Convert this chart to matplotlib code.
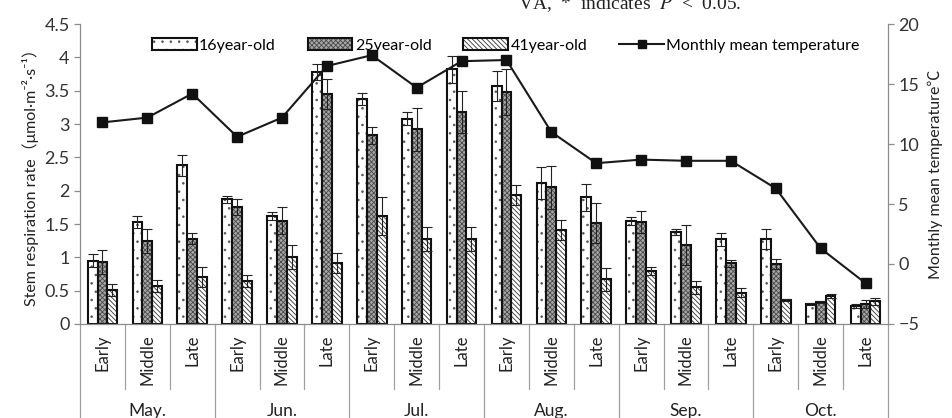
import numpy as np
import matplotlib
matplotlib.use('Agg')
import matplotlib.pyplot as plt
from matplotlib.lines import Line2D
from matplotlib.legend_handler import HandlerTuple

plt.rcParams['font.family'] = ['Lato', 'Noto Sans CJK SC', 'DejaVu Sans']
plt.rcParams['hatch.linewidth'] = 0.6
plt.rcParams['mathtext.fontset'] = 'stix'

months = ['May.', 'Jun.', 'Jul.', 'Aug.', 'Sep.', 'Oct.']
periods = ['Early', 'Middle', 'Late']

rate_16 = [0.95, 1.53, 2.38, 1.87, 1.62, 3.78, 3.37, 3.08, 3.82,
           3.57, 2.12, 1.90, 1.55, 1.38, 1.27, 1.28, 0.30, 0.27]
err_16 = [0.10, 0.09, 0.16, 0.05, 0.06, 0.12, 0.09, 0.10, 0.20,
          0.23, 0.24, 0.20, 0.06, 0.05, 0.10, 0.15, 0.01, 0.03]
rate_25 = [0.93, 1.25, 1.28, 1.75, 1.55, 3.45, 2.83, 2.92, 3.18,
           3.48, 2.05, 1.52, 1.53, 1.19, 0.91, 0.90, 0.33, 0.30]
err_25 = [0.18, 0.18, 0.08, 0.12, 0.20, 0.22, 0.13, 0.32, 0.32,
          0.35, 0.32, 0.30, 0.17, 0.30, 0.05, 0.08, 0.01, 0.06]
rate_41 = [0.51, 0.57, 0.71, 0.64, 1.01, 0.92, 1.62, 1.27, 1.27,
           1.93, 1.41, 0.67, 0.79, 0.55, 0.47, 0.36, 0.42, 0.34]
err_41 = [0.09, 0.09, 0.15, 0.09, 0.18, 0.15, 0.28, 0.18, 0.18,
          0.15, 0.15, 0.17, 0.06, 0.10, 0.07, 0.02, 0.03, 0.05]
temp = [11.8, 12.2, 14.2, 10.6, 12.2, 16.5, 17.4, 14.7, 16.9,
        17.0, 11.0, 8.4, 8.7, 8.6, 8.6, 6.3, 1.3, -1.6]

n = len(rate_16)
x = np.arange(n)
w = 0.22
axis_gray = '#8c8c8c'
txt = '#222222'

fig = plt.figure(figsize=(9.52, 4.18), dpi=100)
ax = fig.add_axes([80 / 952, 1 - 324 / 418, 808 / 952, 300 / 418])
ax.set_xlim(-0.5, n - 0.5)

# (values, errors, fill, hatch colour, hatch, label)
series = [
    (rate_16, err_16, 'white', '#555555', '..', '16year-old'),
    (rate_25, err_25, '#a8a8a8', '#4a4a4a', 'xxxxxxx', '25year-old'),
    (rate_41, err_41, 'white', '#333333', '\\' * 7, '41year-old'),
]
handles = []
for i, (vals, errs, fc, hc, hatch, label) in enumerate(series):
    pos = x + (i - 1) * w
    fill = ax.bar(pos, vals, width=w, color=fc, edgecolor=hc, linewidth=0,
                  hatch=hatch, zorder=2)
    edge = ax.bar(pos, vals, width=w, fill=False, edgecolor='#111111',
                  linewidth=1.5, zorder=2.1)
    handles.append((fill, edge))
    ax.errorbar(pos, vals, yerr=errs, fmt='none', ecolor='#222222', elinewidth=0.8,
                capsize=3.5, capthick=0.8, zorder=3)

ax.set_ylim(0, 4.5)
ax.set_yticks(np.arange(0, 4.51, 0.5))
ax.set_yticklabels(['0', '0.5', '1', '1.5', '2', '2.5', '3', '3.5', '4', '4.5'])
ax.set_xticks([])
ax.set_ylabel('Stem respiration rate（μmol·m⁻²·s⁻¹）', fontsize=11.5, labelpad=4, color=txt)

ax2 = ax.twinx()
ax2.set_ylim(-5, 20)
ax2.set_yticks([-5, 0, 5, 10, 15, 20])
line, = ax2.plot(x, temp, color='#1a1a1a', lw=1.5, marker='s', ms=7.5,
                 mfc='#111111', mec='#111111', zorder=4)
ax2.set_ylabel('Monthly mean temperature℃', fontsize=11.5, labelpad=6, color=txt)

for a in (ax, ax2):
    a.spines['top'].set_visible(False)
    for s in a.spines.values():
        s.set_color(axis_gray)
        s.set_linewidth(0.9)
    a.tick_params(axis='y', colors=axis_gray, labelcolor='#333333', labelsize=13,
                  length=4, width=0.9, direction='out')
ax.spines['right'].set_visible(False)
ax2.spines['left'].set_visible(False)
ax2.spines['bottom'].set_visible(False)

# two-level category axis under the bars
trans = ax.get_xaxis_transform()
for i in range(n):
    ax.text(i, -0.035, periods[i % 3], rotation=90, ha='center', va='top',
            fontsize=12, color=txt, transform=trans)
for k in range(n + 1):
    xb = k - 0.5
    bottom = -0.34 if k % 3 == 0 else -0.215
    ax.add_line(Line2D([xb, xb], [0, bottom], transform=trans, color='#a0a0a0',
                       lw=0.9, clip_on=False))
for m, name in enumerate(months):
    ax.text(3 * m + 1, -0.29, name, ha='center', va='center', fontsize=12.5,
            color=txt, transform=trans)

labels = [s[-1] for s in series] + ['Monthly mean temperature']
ax.legend(handles + [line], labels, loc='upper center',
          bbox_to_anchor=(0.527, 1.0), ncol=4, frameon=False, fontsize=11.5,
          handlelength=2.8, handleheight=0.7, columnspacing=2.0, handletextpad=0.15,
          markerscale=0.8, handler_map={tuple: HandlerTuple(ndivide=1, pad=0)})

fig.text(518 / 952, 1 - 9 / 418, 'VA,  *  indicates  $P$  <  0.05.', ha='left',
         va='baseline', fontsize=14, family='Liberation Serif', color='#222222')

fig.savefig('out.png', dpi=100)
